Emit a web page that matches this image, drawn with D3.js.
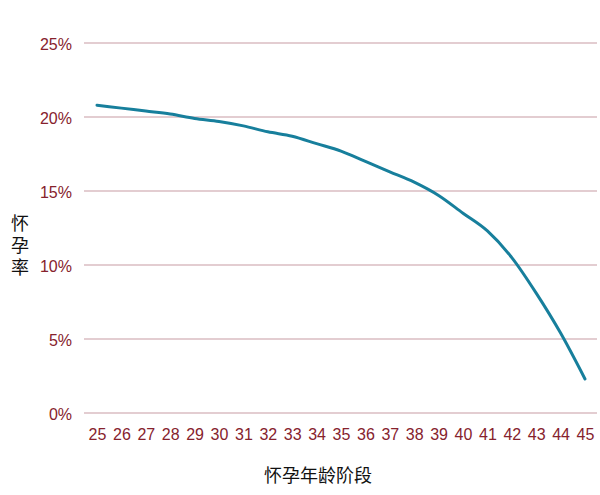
<!DOCTYPE html>
<html><head><meta charset="utf-8">
<script src="https://cdn.jsdelivr.net/npm/d3@7"></script>
<style>body{margin:0;background:#fff}</style>
</head><body>
<svg id="c" width="600" height="495"></svg>
<script>
const ages = [25,26,27,28,29,30,31,32,33,34,35,36,37,38,39,40,41,42,43,44,45];
const rates = [20.8,20.6,20.4,20.2,19.9,19.7,19.4,19.0,18.7,18.2,17.7,17.0,16.3,15.6,14.7,13.5,12.3,10.5,8.1,5.4,2.3];
const yTicks = [0,5,10,15,20,25];
const yTitle = "怀孕率";
const xTitle = "怀孕年龄阶段";

const svg = d3.select("#c");
const x = d3.scalePoint().domain(ages).range([97,585]);
const y = d3.scaleLinear().domain([0,25]).range([413,43]);
const tickFont = "'Liberation Sans Narrow', 'Arial Narrow', 'Liberation Sans', Arial, sans-serif";

const grid = svg.append("g");
grid.selectAll("line").data(yTicks).join("line")
  .attr("x1",84).attr("x2",597)
  .attr("y1",d=>y(d)).attr("y2",d=>y(d))
  .attr("stroke","#e3cdd1").attr("stroke-width",2);

const yAxis = svg.append("g").attr("transform","translate(72,1)")
  .call(d3.axisLeft(y).tickValues(yTicks).tickFormat(d=>d+"%").tickSize(0).tickPadding(0));
yAxis.select(".domain").remove();
yAxis.selectAll("text").attr("fill","#86222d").attr("font-family",tickFont).attr("font-size",16);

const xAxis = svg.append("g").attr("transform","translate(0,429)")
  .call(d3.axisBottom(x).tickSize(0).tickPadding(0));
xAxis.select(".domain").remove();
xAxis.selectAll("text").attr("fill","#86222d").attr("font-family",tickFont).attr("font-size",16).attr("dy","0.71em");

const line = d3.line().x((d,i)=>x(ages[i])).y(d=>y(d)).curve(d3.curveMonotoneX);
svg.append("path").datum(rates).attr("d",line)
  .attr("fill","none").attr("stroke","#177f9c").attr("stroke-width",3).attr("stroke-linecap","round");

svg.append("text").attr("x",20).attr("y",214)
  .style("writing-mode","vertical-rl").style("letter-spacing","4px")
  .attr("font-family","Noto Sans CJK SC").attr("font-size",18).attr("fill","#111").text(yTitle);

svg.append("text").attr("x",318).attr("y",482).attr("text-anchor","middle")
  .attr("font-family","Noto Sans CJK SC").attr("font-size",18).attr("fill","#111").text(xTitle);
</script>
</body></html>
